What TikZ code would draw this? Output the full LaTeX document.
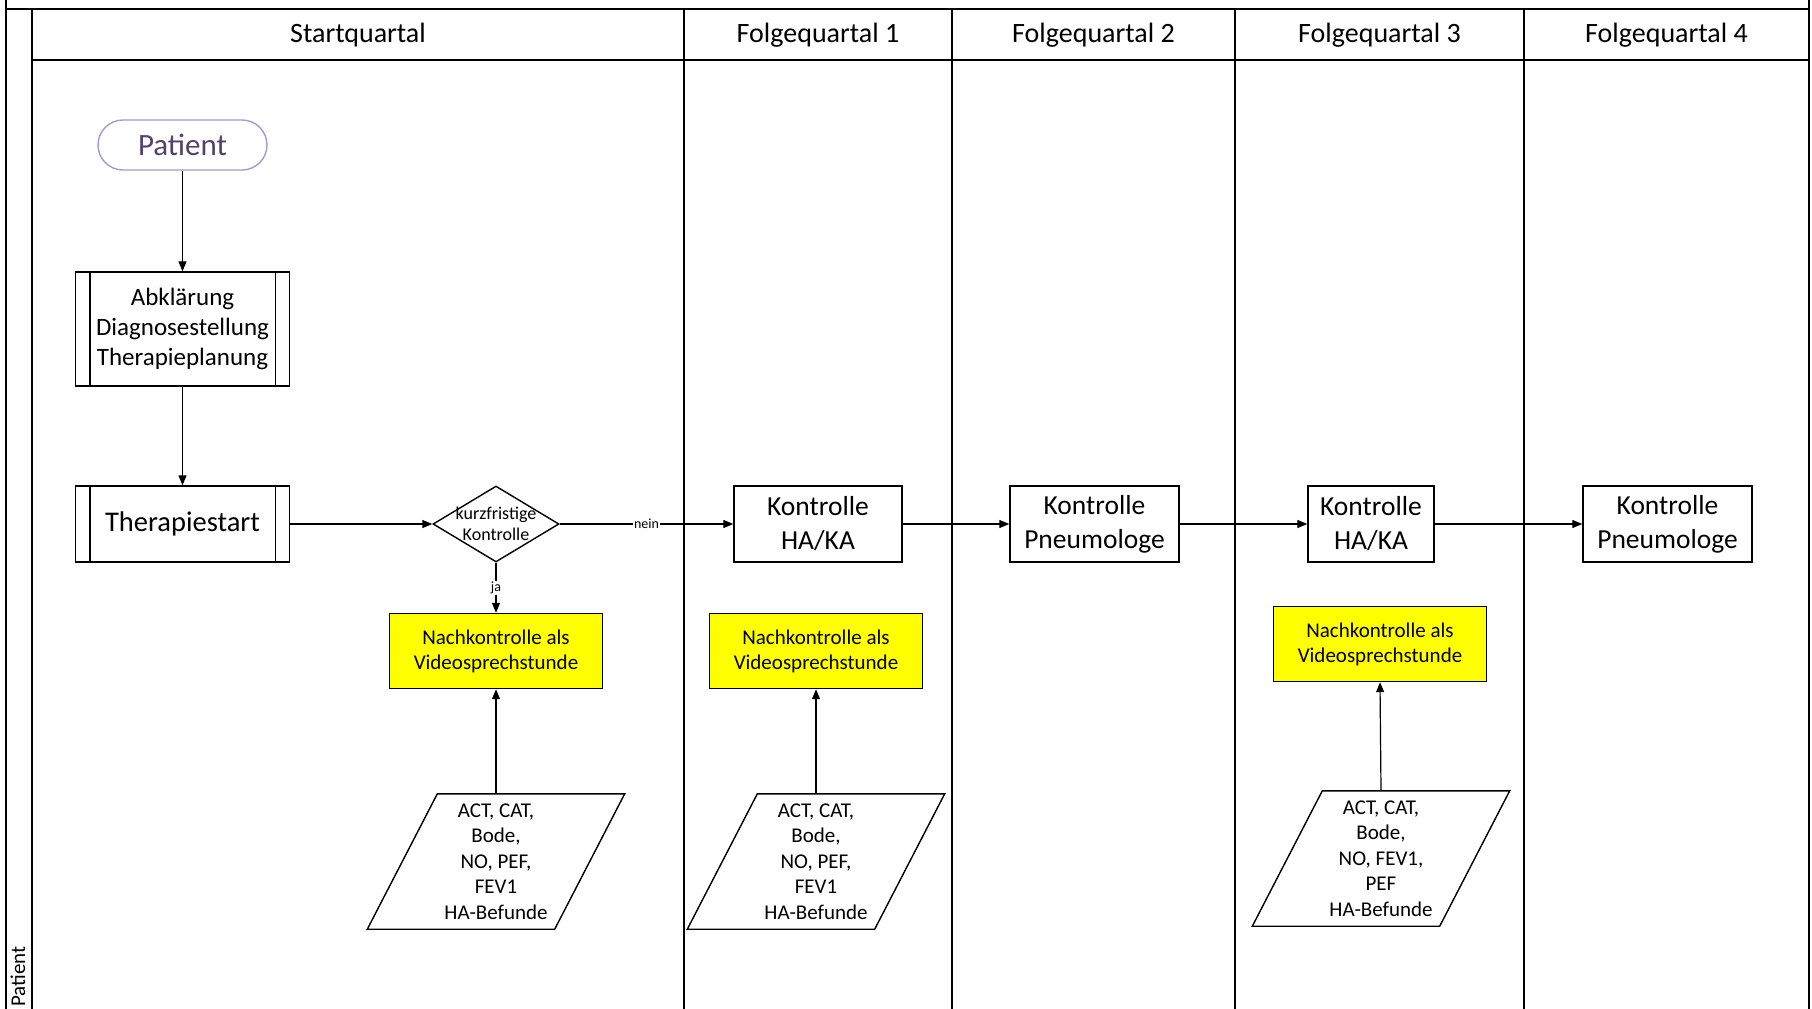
\documentclass[tikz,border=0pt]{standalone}
\usepackage{fontspec}
\setmainfont{Carlito}
\usetikzlibrary{arrows.meta,shapes.geometric}
\definecolor{patborder}{HTML}{A897CF}
\definecolor{pattext}{HTML}{54426E}
\definecolor{nkyellow}{HTML}{FFFF00}
\begin{document}
\begin{tikzpicture}[x=1pt,y=-1pt,
  lane/.style={line width=2pt,draw=black},
  hdr/.style={font=\fontsize{28}{32}\selectfont},
  boxline/.style={line width=1.4pt,draw=black},
  proc/.style={boxline,rectangle,minimum width=214pt,inner sep=0pt,align=center},
  term/.style={draw=patborder,line width=1.4pt,rounded corners=25pt,minimum width=169pt,minimum height=50pt,text=pattext,font=\fontsize{31}{36}\selectfont,inner sep=0pt},
  dec/.style={boxline,diamond,minimum width=126pt,minimum height=76pt,inner sep=0pt},
  nk/.style={boxline,fill=nkyellow,rectangle,minimum width=213pt,minimum height=75pt,inner sep=0pt,align=center,font=\fontsize{21}{25}\selectfont},
  para/.style={rectangle,minimum width=187pt,minimum height=135pt,inner sep=0pt,align=center,font=\fontsize{21}{25.5}\selectfont},
  kbox/.style={boxline,rectangle,minimum height=76pt,inner sep=0pt,align=center,font=\fontsize{27.5}{34}\selectfont},
  conn/.style={line width=1.2pt,-{Triangle[length=10pt,width=8pt]}},
  lbl/.style={fill=white,inner sep=1pt,font=\fontsize{14}{16}\selectfont}
]
\useasboundingbox (0,0) rectangle (1812,1009);
\clip (0,0) rectangle (1812,1009);

% pool and lanes
\draw[lane] (6,0) -- (6,1009);
\draw[lane] (1809,0) -- (1809,1009);
\draw[lane] (6,9) -- (1809,9);
\draw[lane] (32,9) -- (32,1009);
\draw[lane] (32,60) -- (1809,60);
\foreach \xx in {684,952,1235,1524} \draw[lane] (\xx,9) -- (\xx,1009);

% headers
\node[hdr] (h0) at (358,35) {Startquartal};
\node[hdr] (h1) at (818,35) {Folgequartal 1};
\node[hdr] (h2) at (1093.5,35) {Folgequartal 2};
\node[hdr] (h3) at (1379.5,35) {Folgequartal 3};
\node[hdr] (h4) at (1666.5,35) {Folgequartal 4};
\node[rotate=90,anchor=base west,font=\fontsize{21}{24}\selectfont] (lanelbl) at (25,1010) {Patient};

% start column
\node[term] (pat) at (182.5,145) {Patient};
\node[proc,minimum height=114pt,font=\fontsize{25}{30}\selectfont] (ab) at (182.5,329) {Abklärung\\Diagnosestellung\\Therapieplanung};
\draw[boxline] ([xshift=15pt]ab.north west) -- ([xshift=15pt]ab.south west);
\draw[boxline] ([xshift=-15pt]ab.north east) -- ([xshift=-15pt]ab.south east);
\node[proc,minimum height=76pt,font=\fontsize{28.5}{32}\selectfont] (ts) at (182.5,524) {Therapiestart};
\draw[boxline] ([xshift=15pt]ts.north west) -- ([xshift=15pt]ts.south west);
\draw[boxline] ([xshift=-15pt]ts.north east) -- ([xshift=-15pt]ts.south east);
\node[dec,label={[font=\fontsize{18}{21}\selectfont,align=center]center:kurzfristige\\Kontrolle}] (dk) at (496,524) {};
\node[nk] (nk0) at (496,651) {Nachkontrolle als\\Videosprechstunde};
\node[para] (pa0) at (496,861.5) {ACT, CAT,\\Bode,\\NO, PEF,\\FEV1\\HA-Befunde};

% Folgequartal 1
\node[kbox,minimum width=168pt] (k1) at (818,524) {Kontrolle\\HA/KA};
\node[nk] (nk1) at (816,651) {Nachkontrolle als\\Videosprechstunde};
\node[para] (pa1) at (816,861.5) {ACT, CAT,\\Bode,\\NO, PEF,\\FEV1\\HA-Befunde};

% Folgequartal 2
\node[kbox,minimum width=169pt] (k2) at (1094.5,524) {Kontrolle\\Pneumologe};

% Folgequartal 3
\node[kbox,minimum width=126pt] (k3) at (1371,524) {Kontrolle\\HA/KA};
\node[nk] (nk3) at (1380,644) {Nachkontrolle als\\Videosprechstunde};
\node[para] (pa3) at (1381,858.5) {ACT, CAT,\\Bode,\\NO, FEV1,\\PEF\\HA-Befunde};

% Folgequartal 4
\node[kbox,minimum width=169pt] (k4) at (1667.5,524) {Kontrolle\\Pneumologe};

% parallelogram outlines
\foreach \n in {pa0,pa1,pa3}
  \draw[boxline] ([xshift=35pt]\n.north west) -- ([xshift=35pt]\n.north east) -- ([xshift=-35pt]\n.south east) -- ([xshift=-35pt]\n.south west) -- cycle;

% connectors
\draw[conn] (pat) -- (ab);
\draw[conn] (ab) -- (ts);
\draw[conn] (ts) -- (dk);
\draw[conn] (dk) -- node[lbl] {nein} (k1);
\draw[conn] (dk) -- node[lbl] {ja} (nk0);
\draw[conn] (pa0.north) -- (nk0.south);
\draw[conn] (pa1.north) -- (nk1.south);
\draw[conn] (pa3.north) -- (nk3.south);
\draw[conn] (k1) -- (k2);
\draw[conn] (k2) -- (k3);
\draw[conn] (k3) -- (k4);
\end{tikzpicture}
\end{document}
